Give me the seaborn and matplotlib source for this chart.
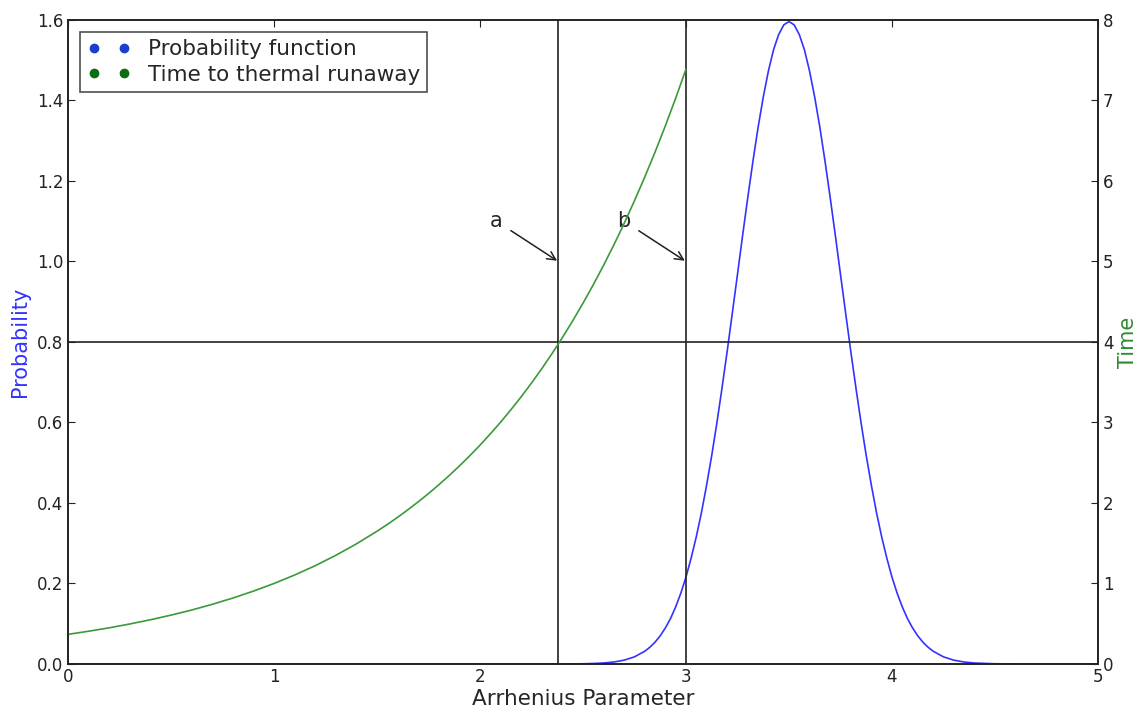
import matplotlib
matplotlib.use("Agg")
import matplotlib.pyplot as plt
import seaborn as sns
import pandas as pd
from matplotlib.lines import Line2D

# ---- data ----
prob_x = [0.0, 2.35, 2.4, 2.45, 2.5, 2.55, 2.6, 2.65, 2.7, 2.75, 2.8, 2.825, 2.85,
          2.875, 2.9, 2.925, 2.95, 2.975, 3.0, 3.025, 3.05, 3.075, 3.1, 3.125, 3.15,
          3.175, 3.2, 3.225, 3.25, 3.275, 3.3, 3.325, 3.35, 3.375, 3.4, 3.425, 3.45,
          3.475, 3.5, 3.525, 3.55, 3.575, 3.6, 3.625, 3.65, 3.675, 3.7, 3.725, 3.75,
          3.775, 3.8, 3.825, 3.85, 3.875, 3.9, 3.925, 3.95, 3.975, 4.0, 4.025, 4.05,
          4.075, 4.1, 4.125, 4.15, 4.175, 4.2, 4.25, 4.3, 4.35, 4.4, 4.5, 4.6, 5.0]
prob_y = [0.0, 0.0, 0.0001, 0.0002, 0.0005, 0.0012, 0.0024, 0.0049, 0.0095, 0.0177,
          0.0317, 0.0417, 0.0543, 0.0701, 0.0896, 0.113, 0.142, 0.176, 0.216, 0.263,
          0.316, 0.376, 0.444, 0.518, 0.599, 0.686, 0.777, 0.872, 0.968, 1.065, 1.159,
          1.249, 1.333, 1.408, 1.473, 1.526, 1.564, 1.588, 1.596, 1.588, 1.564, 1.526,
          1.473, 1.408, 1.333, 1.249, 1.159, 1.065, 0.968, 0.872, 0.777, 0.686, 0.599,
          0.518, 0.444, 0.376, 0.316, 0.263, 0.216, 0.176, 0.142, 0.113, 0.0896,
          0.0701, 0.0543, 0.0417, 0.0317, 0.0177, 0.0095, 0.0049, 0.0024, 0.0005,
          0.0001, 0.0]

time_x = [0.0, 0.1, 0.2, 0.3, 0.4, 0.5, 0.6, 0.7, 0.8, 0.9, 1.0, 1.1, 1.2, 1.3, 1.4,
          1.5, 1.55, 1.6, 1.65, 1.7, 1.75, 1.8, 1.85, 1.9, 1.95, 2.0, 2.05, 2.1, 2.15,
          2.2, 2.25, 2.3, 2.35, 2.4, 2.45, 2.5, 2.55, 2.6, 2.65, 2.7, 2.75, 2.8, 2.85,
          2.9, 2.95, 3.0]
time_y = [0.368, 0.407, 0.449, 0.497, 0.549, 0.607, 0.670, 0.741, 0.819, 0.905, 1.0,
          1.105, 1.221, 1.350, 1.492, 1.649, 1.733, 1.822, 1.916, 2.014, 2.117, 2.226,
          2.340, 2.460, 2.586, 2.718, 2.858, 3.004, 3.158, 3.320, 3.490, 3.669, 3.857,
          4.055, 4.263, 4.482, 4.711, 4.953, 5.207, 5.474, 5.755, 6.050, 6.360, 6.686,
          7.029, 7.389]

vlines_x = [2.38, 3.0]
hline_y = [0.8]
annot_labels = ["a", "b"]
annot_text_xy = [(2.08, 1.1), (2.7, 1.1)]
annot_arrow_xy = [(2.38, 1.0), (3.0, 1.0)]
legend_labels = ["Probability function", "Time to thermal runaway"]

# ---- plot ----
sns.set_style("white")
plt.rcParams['font.family'] = ['DejaVu Sans']
plt.rcParams['xtick.direction'] = 'in'
plt.rcParams['ytick.direction'] = 'in'

fig = plt.figure(figsize=(11.36, 7.09), dpi=100)
ax = fig.add_axes([0.0599, 0.0635, 0.9066, 0.9083])
ax2 = ax.twinx()

blue_line = "#3333ff"
green_line = "#3a9a3a"

df_p = pd.DataFrame({"x": prob_x, "y": prob_y})
df_t = pd.DataFrame({"x": time_x, "y": time_y})
sns.lineplot(data=df_p, x="x", y="y", ax=ax, color=blue_line, linewidth=1.2)
sns.lineplot(data=df_t, x="x", y="y", ax=ax2, color=green_line, linewidth=1.2)

for xv in vlines_x:
    ax.axvline(xv, color="#222222", linewidth=1.2)
for yv in hline_y:
    ax.axhline(yv, color="#222222", linewidth=1.2)

for lab, txy, axy in zip(annot_labels, annot_text_xy, annot_arrow_xy):
    ax.annotate(lab, xy=axy, xytext=txy, fontsize=15, ha="center", va="center",
                arrowprops=dict(arrowstyle="->", color="#222222", lw=1.1,
                                shrinkA=4, shrinkB=1))

ax.set_xlim(0, 5)
ax.set_ylim(0, 1.6)
ax2.set_ylim(0, 8)
ax.set_xticks([0, 1, 2, 3, 4, 5])
ax.set_yticks([0.0, 0.2, 0.4, 0.6, 0.8, 1.0, 1.2, 1.4, 1.6])
ax2.set_yticks([0, 1, 2, 3, 4, 5, 6, 7, 8])
ax.tick_params(axis="x", top=True, labelsize=12, length=5, pad=3, colors="#222222")
ax.tick_params(axis="y", labelsize=12, length=5, colors="#222222")
ax2.tick_params(axis="y", labelsize=12, length=5, colors="#222222")

ax.set_xlabel("Arrhenius Parameter", fontsize=15.5, labelpad=2)
ax.set_ylabel("Probability", fontsize=15, color="#3333ff", labelpad=5)
ax2.set_ylabel("Time", fontsize=15, color="#2e8b2e", labelpad=3)

for a in (ax, ax2):
    for s in a.spines.values():
        s.set_color("#222222")
        s.set_linewidth(1.2)

handles = [Line2D([0], [0], marker="o", linestyle="none", color="#1a3fcc", markersize=6),
           Line2D([0], [0], marker="o", linestyle="none", color="#0a6e12", markersize=6)]
leg = ax.legend(handles, legend_labels, loc="upper left", numpoints=2, fontsize=15.5,
                frameon=True, fancybox=False, borderpad=0.35, handletextpad=0.8,
                handlelength=2.0, labelspacing=0.25, borderaxespad=0.55)
leg.get_frame().set_edgecolor("#222222")
leg.get_frame().set_linewidth(1.2)

fig.savefig("out.png", dpi=100)
